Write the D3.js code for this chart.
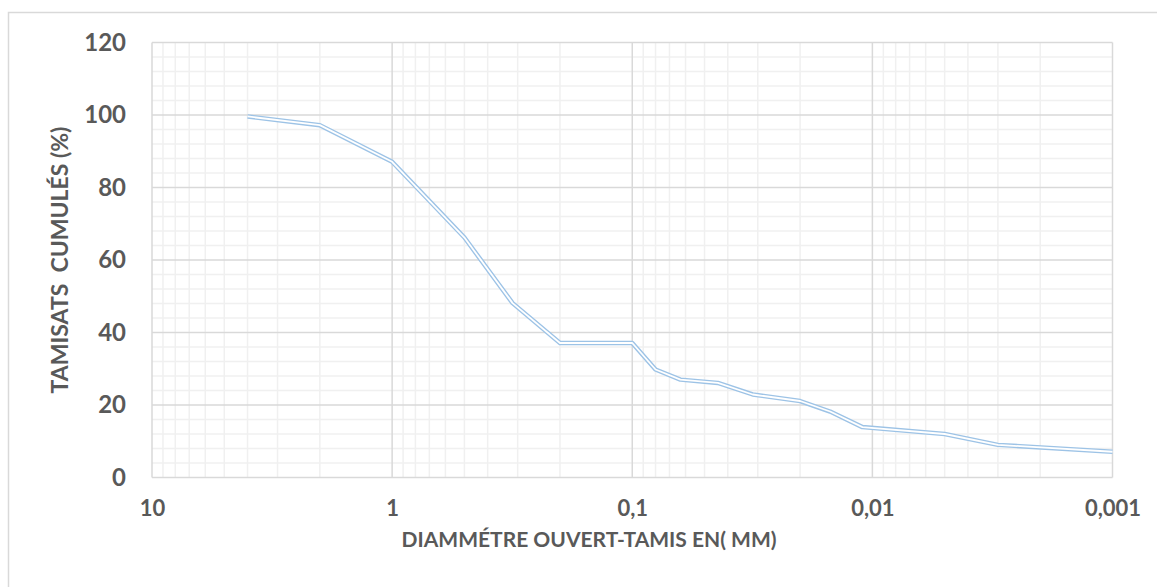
<!DOCTYPE html>
<html>
<head>
<meta charset="utf-8">
<script src="https://cdn.jsdelivr.net/npm/d3@7"></script>
<style>
  body { margin: 0; background: #fff; }
  svg text { font-family: Lato, "Open Sans", sans-serif; font-weight: bold; fill: #595959; }
</style>
</head>
<body>
<svg id="chart" width="1157" height="587"></svg>
<script>
// sieve diameters (mm) and cumulative passing (%)
const diameters = [4, 2, 1, 0.5, 0.315, 0.2, 0.1, 0.08, 0.063, 0.044, 0.0315, 0.02, 0.015, 0.011, 0.005, 0.003, 0.001];
const passing = [99.6, 97.2, 87.1, 66.2, 48.1, 37.1, 37.1, 29.8, 27.0, 26.1, 22.9, 21.1, 18.2, 13.9, 12.0, 9.0, 7.1];
const xTicks = [10, 1, 0.1, 0.01, 0.001];
const xTickLabels = ["10", "1", "0,1", "0,01", "0,001"];
const yTicks = [0, 20, 40, 60, 80, 100, 120];

const margin = { top: 42.5, right: 44.5, bottom: 109.5, left: 152 };
const W = 1157, H = 587;
const width = W - margin.left - margin.right;
const height = H - margin.top - margin.bottom;

const svg = d3.select("#chart");

// outer chart frame (cut by the window on right and bottom)
svg.append("rect")
    .attr("x", 8.5).attr("y", 12.5)
    .attr("width", W + 20).attr("height", H + 20)
    .attr("fill", "none").attr("stroke", "#d9d9d9").attr("stroke-width", 1.5);

const g = svg.append("g").attr("transform", `translate(${margin.left},${margin.top})`);

const x = d3.scaleLog().domain([10, 0.001]).range([0, width]);
const y = d3.scaleLinear().domain([0, 120]).range([height, 0]);

// minor grid
const minorX = [];
[1, 0.1, 0.01, 0.001].forEach(dec => {
    for (let k = 2; k <= 9; k++) minorX.push(dec * k);
});
g.append("g").selectAll("line").data(minorX).join("line")
    .attr("x1", d => x(d)).attr("x2", d => x(d))
    .attr("y1", 0).attr("y2", height)
    .attr("stroke", "#f0f0f0").attr("stroke-width", 1.5);

const minorY = d3.range(0, 121, 4).filter(v => v % 20 !== 0);
g.append("g").selectAll("line").data(minorY).join("line")
    .attr("x1", 0).attr("x2", width)
    .attr("y1", d => y(d)).attr("y2", d => y(d))
    .attr("stroke", "#f0f0f0").attr("stroke-width", 1.5);

// major grid
g.append("g").selectAll("line").data(xTicks).join("line")
    .attr("x1", d => x(d)).attr("x2", d => x(d))
    .attr("y1", 0).attr("y2", height)
    .attr("stroke", "#d9d9d9").attr("stroke-width", 1.5);

g.append("g").selectAll("line").data(yTicks).join("line")
    .attr("x1", 0).attr("x2", width)
    .attr("y1", d => y(d)).attr("y2", d => y(d))
    .attr("stroke", "#d9d9d9").attr("stroke-width", 1.5);

// axes (labels only)
const xAxis = g.append("g")
    .attr("transform", `translate(0,${height})`)
    .call(d3.axisBottom(x).tickValues(xTicks).tickFormat((d, i) => xTickLabels[i]).tickSize(0).tickPadding(23));
xAxis.select(".domain").remove();
xAxis.selectAll("text").attr("font-size", 22).attr("font-family", null);

const yAxis = g.append("g")
    .call(d3.axisLeft(y).tickValues(yTicks).tickSize(0).tickPadding(26));
yAxis.select(".domain").remove();
yAxis.selectAll("text").attr("font-size", 24).attr("font-family", null);

// data line: double stroke
const pts = diameters.map((d, i) => ({ d: d, v: passing[i] }));
const line = d3.line().x(p => x(p.d)).y(p => y(p.v));
g.append("path").datum(pts)
    .attr("d", line).attr("fill", "none")
    .attr("stroke", "#9dc3e6").attr("stroke-width", 4.5).attr("stroke-linejoin", "round");
g.append("path").datum(pts)
    .attr("d", line).attr("fill", "none")
    .attr("stroke", "#ffffff").attr("stroke-width", 1.8).attr("stroke-linejoin", "round");

// axis titles
svg.append("text")
    .attr("x", 589).attr("y", 547)
    .attr("text-anchor", "middle").attr("font-size", 21)
    .text("DIAMMÉTRE OUVERT-TAMIS EN( MM)");

svg.append("text")
    .attr("transform", `translate(68,${margin.top + height / 2}) rotate(-90)`)
    .attr("text-anchor", "middle").attr("font-size", 23)
    .attr("xml:space", "preserve").style("white-space", "pre")
    .text("TAMISATS  CUMULÉS (%)");
</script>
</body>
</html>
